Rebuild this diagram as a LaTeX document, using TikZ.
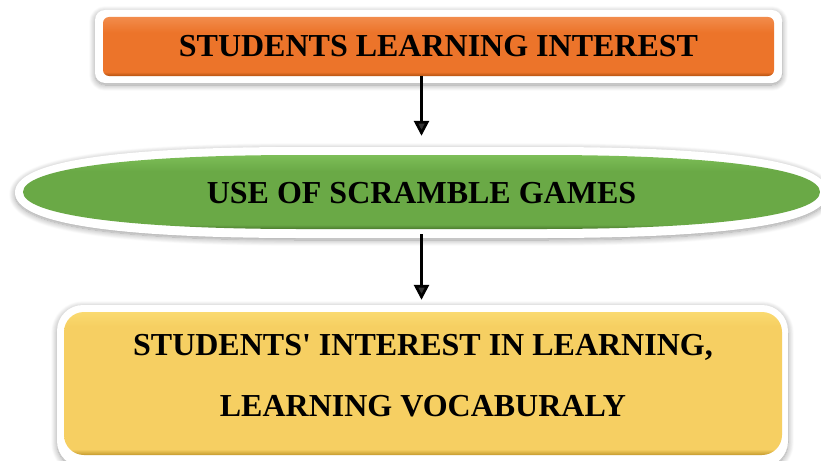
\documentclass[tikz,border=0pt]{standalone}
\usepackage{fontspec}
\setmainfont{Liberation Serif}
\usetikzlibrary{arrows.meta,shadows.blur}

% palette
\definecolor{orangeDark}{HTML}{B4520F}
\definecolor{orangeBase}{HTML}{EC742A}
\definecolor{orangeLight}{HTML}{F28C4C}
\definecolor{greenDark}{HTML}{4B7A2E}
\definecolor{greenBase}{HTML}{6AA946}
\definecolor{greenLight}{HTML}{7DBE58}
\definecolor{yellowDark}{HTML}{C49A2E}
\definecolor{yellowBase}{HTML}{F6CF62}
\definecolor{yellowLight}{HTML}{FADA70}

% bevelled fills: dark rim at the bottom, lighter rim at the top
\pgfdeclareverticalshading{orangebevel}{100bp}{color(0bp)=(orangeDark); color(25bp)=(orangeDark); color(28.5bp)=(orangeBase); color(62bp)=(orangeBase); color(75bp)=(orangeLight); color(100bp)=(orangeLight)}
\pgfdeclareverticalshading{greenbevel}{100bp}{color(0bp)=(greenDark); color(25bp)=(greenDark); color(28bp)=(greenBase); color(64bp)=(greenBase); color(75bp)=(greenLight); color(100bp)=(greenLight)}
\pgfdeclareverticalshading{yellowbevel}{100bp}{color(0bp)=(yellowDark); color(25bp)=(yellowDark); color(27bp)=(yellowBase); color(70bp)=(yellowBase); color(75bp)=(yellowLight); color(100bp)=(yellowLight)}

\begin{document}
\begin{tikzpicture}[x=1pt,y=-1pt,
  frame/.style={fill=white, blur shadow={shadow xshift=0pt, shadow yshift=-2pt,
      shadow blur radius=6pt, shadow opacity=40, shadow blur steps=10}},
  caption/.style={font=\bfseries\fontsize{32}{61}\selectfont, text=black,
      align=center, inner sep=0pt},
  link/.style={line width=2.7pt, -{Triangle[width=15pt,length=15pt]}}]
\useasboundingbox (0,0) rectangle (821,460);

% top box
\path[frame, rounded corners=10pt] (95,10) rectangle (782,83);
\node[caption, shading=orangebevel, rounded corners=6pt,
      minimum width=671pt, minimum height=59pt] (top) at (438.5,46.5)
      {STUDENTS LEARNING INTEREST};

% middle pill
\path[frame] (15,192.5) .. controls (15,162) and (110,147) .. (300,147)
  -- (543,147) .. controls (733,147) and (828,162) .. (828,192.5)
  .. controls (828,223) and (733,238) .. (543,238)
  -- (300,238) .. controls (110,238) and (15,223) .. (15,192.5) -- cycle;
\shade[shading=greenbevel] (23,192) .. controls (23,170) and (120,155) .. (300,155)
  -- (543,155) .. controls (723,155) and (820,170) .. (820,192)
  .. controls (820,214) and (723,229) .. (543,229)
  -- (300,229) .. controls (120,229) and (23,214) .. (23,192) -- cycle;
\node[caption, minimum height=74pt] (mid) at (421.5,193) {USE OF SCRAMBLE GAMES};

% bottom box
\path[frame, rounded corners=26pt] (57,305) rectangle (788,467);
\node[shading=yellowbevel, rounded corners=20pt, inner sep=0pt,
      minimum width=718pt, minimum height=143pt] (bottom) at (423,383.5) {};
\node[caption] (bottomtext) at (423,375.7)
      {STUDENTS\textquotesingle{} INTEREST IN LEARNING,\\LEARNING VOCABURALY};

% connectors
\draw[link, shorten >=20pt] (top.south -| mid.north) -- (mid.north);
\draw[link, shorten <=4pt, shorten >=12pt] (mid.south) -- (mid.south |- bottom.north);
\end{tikzpicture}
\end{document}
